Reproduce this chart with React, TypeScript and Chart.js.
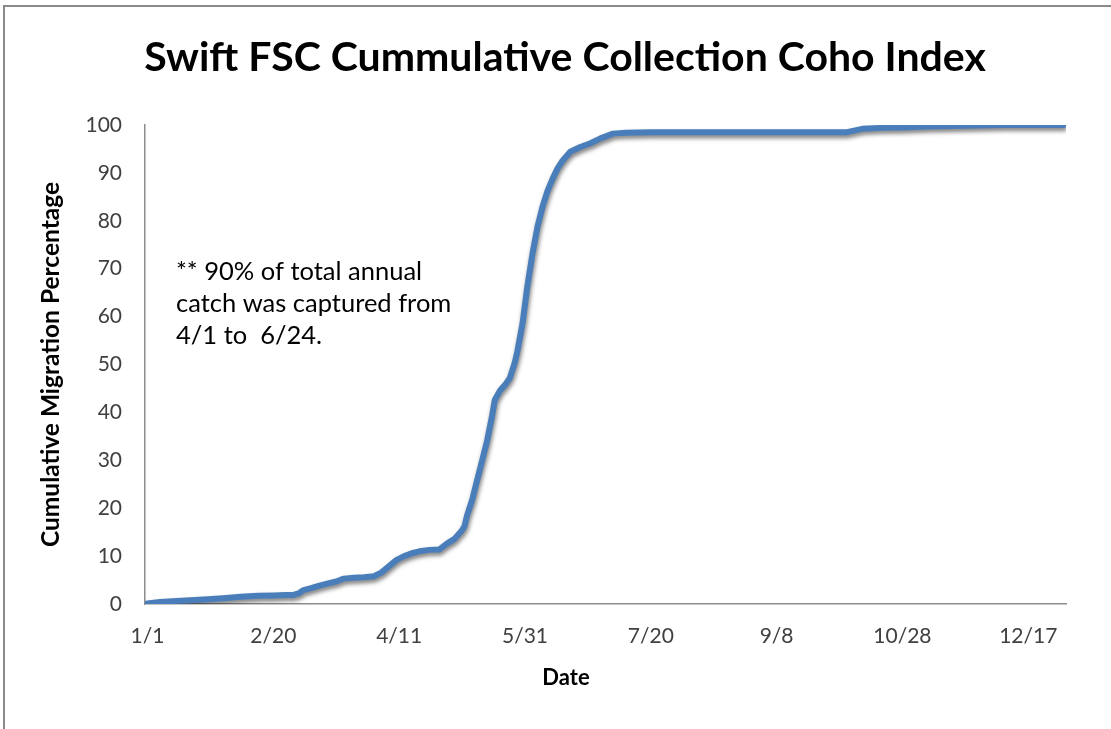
import React, { useEffect, useRef } from "react";
import { Chart, registerables } from "chart.js";

Chart.register(...registerables);

const chartTitle = "Swift FSC Cummulative Collection Coho Index";
const yAxisTitle = "Cumulative Migration Percentage";
const xAxisTitle = "Date";
const noteLines = ["** 90% of total annual", "catch was captured from", "4/1 to  6/24."];

const tickDays = [0, 50, 100, 150, 200, 250, 300, 350];
const tickLabels = ["1/1", "2/20", "4/11", "5/31", "7/20", "9/8", "10/28", "12/17"];

const days = [
  0, 5, 10, 17, 24, 30, 37, 44, 50, 55, 58, 60, 62, 65, 68, 71, 75, 78, 82, 86,
  90, 93, 96, 99, 102, 105, 108, 112, 116, 119, 122, 125, 126, 127, 129, 131,
  133, 135, 137, 138, 140, 142, 144, 146, 147, 149, 150, 151, 153, 155, 157,
  159, 161, 163, 165, 168, 172, 176, 180, 185, 190, 200, 220, 240, 260, 278,
  284, 292, 300, 310, 320, 330, 340, 350, 364,
];
const cumulativePct = [
  0.1, 0.4, 0.6, 0.8, 1.0, 1.2, 1.5, 1.7, 1.8, 1.9, 1.9, 2.2, 2.9, 3.3, 3.8,
  4.2, 4.7, 5.3, 5.5, 5.6, 5.8, 6.6, 7.9, 9.2, 10.0, 10.6, 11.0, 11.3, 11.4,
  12.6, 13.6, 15.4, 16.3, 18.5, 21.7, 25.9, 30.0, 34.2, 39.5, 42.6, 44.5, 45.7,
  47.2, 50.5, 52.8, 58.5, 62.5, 66.5, 73.2, 78.8, 83.0, 86.3, 88.8, 91.0, 92.6,
  94.4, 95.4, 96.2, 97.2, 98.2, 98.4, 98.5, 98.5, 98.5, 98.5, 98.5, 99.2, 99.4,
  99.5, 99.7, 99.8, 99.9, 100, 100, 100,
];

const lineShadow = {
  id: "lineShadow",
  beforeDatasetDraw(chart: any) {
    const ctx = chart.ctx;
    ctx.save();
    ctx.shadowColor = "rgba(0,0,0,0.5)";
    ctx.shadowBlur = 4;
    ctx.shadowOffsetX = 1;
    ctx.shadowOffsetY = 3;
  },
  afterDatasetDraw(chart: any) {
    chart.ctx.restore();
  },
};

const decorations = {
  id: "decorations",
  beforeDraw(chart: any) {
    const ctx = chart.ctx;
    ctx.save();
    ctx.fillStyle = "#ffffff";
    ctx.fillRect(0, 0, chart.width, chart.height);
    ctx.strokeStyle = "#8a8a8a";
    ctx.lineWidth = 2;
    ctx.beginPath();
    ctx.moveTo(chart.width, 6);
    ctx.lineTo(4, 6);
    ctx.lineTo(4, chart.height);
    ctx.stroke();
    ctx.restore();
  },
  afterDraw(chart: any) {
    const ctx = chart.ctx;
    ctx.save();
    ctx.fillStyle = "#000000";
    ctx.textBaseline = "middle";
    ctx.textAlign = "center";
    ctx.font = "bold 41px Lato";
    ctx.fillText(chartTitle, 565, 58);
    ctx.font = "bold 22px Lato";
    ctx.fillText(xAxisTitle, 566, 678);
    ctx.textAlign = "left";
    ctx.font = "25.5px Lato";
    noteLines.forEach((t, i) => ctx.fillText(t, 176, 272 + i * 32));
    ctx.restore();
  },
};

export default function App() {
  const ref = useRef<HTMLCanvasElement | null>(null);
  useEffect(() => {
    document.body.style.margin = "0";
    const canvas = ref.current!;
    const chart = new Chart(canvas, {
      type: "line",
      data: {
        datasets: [
          {
            data: days.map((d, i) => ({ x: d, y: cumulativePct[i] })),
            borderColor: "#4A7EBB",
            backgroundColor: "#4A7EBB",
            borderWidth: 6,
            pointRadius: 0,
            tension: 0,
            borderCapStyle: "round",
            borderJoinStyle: "round",
          },
        ],
      },
      plugins: [decorations, lineShadow],
      options: {
        animation: false,
        responsive: false,
        layout: { padding: { top: 125, left: 0, right: 45, bottom: 0 } },
        plugins: {
          legend: { display: false },
          tooltip: { enabled: false },
          title: { display: false },
        },
        scales: {
          x: {
            type: "linear",
            min: -1,
            max: 365,
            afterBuildTicks: (s: any) => {
              s.ticks = tickDays.map((v) => ({ value: v }));
            },
            afterFit: (s: any) => {
              s.height = 125;
            },
            ticks: {
              autoSkip: false,
              maxRotation: 0,
              padding: 20,
              color: "#404040",
              font: { family: "Lato", size: 21 },
              callback: (v: any) => {
                const i = tickDays.indexOf(Number(v));
                return i >= 0 ? tickLabels[i] : "";
              },
            },
            grid: { display: false, drawTicks: false },
            border: { display: true, color: "#8c8c8c", width: 1.5 },
            title: { display: false, text: xAxisTitle },
          },
          y: {
            min: 0,
            max: 100,
            afterFit: (s: any) => {
              s.width = 145;
            },
            ticks: {
              stepSize: 10,
              padding: 23,
              color: "#404040",
              font: { family: "Lato", size: 21 },
            },
            grid: { display: false, drawTicks: false },
            border: { display: true, color: "#8c8c8c", width: 1.5 },
            title: {
              display: true,
              text: yAxisTitle,
              color: "#000000",
              font: { family: "Lato", size: 24.5, weight: "bold" },
              padding: { top: 36, bottom: 0 },
            },
          },
        },
      },
    });
    return () => chart.destroy();
  }, []);
  return <canvas ref={ref} width={1111} height={729} style={{ display: "block" }} />;
}
